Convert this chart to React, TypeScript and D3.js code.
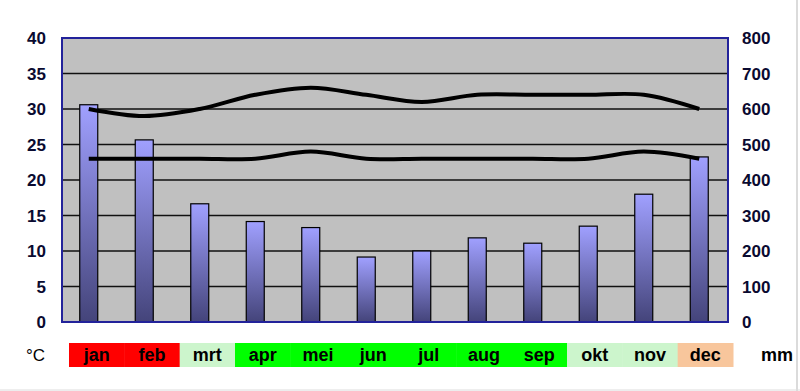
import React from "react";
import * as d3 from "d3";

const months = ["jan", "feb", "mrt", "apr", "mei", "jun", "jul", "aug", "sep", "okt", "nov", "dec"];
const precipitation = [612, 513, 333, 283, 266, 183, 200, 237, 222, 270, 360, 465];
const tempMax = [30, 29, 30, 32, 33, 32, 31, 32, 32, 32, 32, 30];
const tempMin = [23, 23, 23, 23, 24, 23, 23, 23, 23, 23, 24, 23];
const leftTicks = [0, 5, 10, 15, 20, 25, 30, 35, 40];
const rightTicks = [0, 100, 200, 300, 400, 500, 600, 700, 800];
const monthColors = ["#ff0000", "#ff0000", "#ccf5cc", "#00ff00", "#00ff00", "#00ff00", "#00ff00", "#00ff00", "#00ff00", "#ccf5cc", "#ccf5cc", "#f8c69c"];

export default function App() {
  const W = 800, H = 391;
  const L = 62, R = 728, T = 38, B = 322;
  const x = d3.scaleBand<string>().domain(months).range([L, R]).padding(0);
  const yT = d3.scaleLinear().domain([0, 40]).range([B, T]);
  const yP = d3.scaleLinear().domain([0, 800]).range([B, T]);
  const xm = d3.scaleBand<string>().domain(months).range([69, 733]).padding(0);
  const barW = 18;
  const cx = (m: string) => (x(m) as number) + x.bandwidth() / 2 - 1;
  const line = d3.line<number>()
    .x((_, i) => cx(months[i]))
    .y((d) => yT(d))
    .curve(d3.curveCatmullRom.alpha(0.5));
  const font = "Arial, 'Liberation Sans', sans-serif";
  return (
    <svg width={W} height={H} style={{ position: "absolute", left: 0, top: 0, background: "#fff" }}>
      <defs>
        <linearGradient id="barGrad" x1="0" y1="0" x2="0" y2="1">
          <stop offset="0%" stopColor="#a0a0ff" />
          <stop offset="100%" stopColor="#44447a" />
        </linearGradient>
      </defs>
      <rect x={0} y={0} width={W} height={H} fill="#fff" />
      <line x1={797} x2={797} y1={0} y2={H} stroke="#cfcfcf" strokeWidth={1.5} />
      <line x1={0} x2={W} y1={390} y2={390} stroke="#dcdcdc" strokeWidth={1} />
      <rect x={L} y={T} width={R - L} height={B - T} fill="#c0c0c0" />
      {leftTicks.slice(1, -1).map((t) => (
        <line key={t} x1={L} x2={R} y1={yT(t)} y2={yT(t)} stroke="#111" strokeWidth={1.3} />
      ))}
      {precipitation.map((v, i) => (
        <rect key={months[i]} x={cx(months[i]) - barW / 2} y={yP(v)} width={barW} height={B - yP(v)}
          fill="url(#barGrad)" stroke="#000" strokeWidth={1.2} />
      ))}
      <path d={line(tempMax) || ""} fill="none" stroke="#000" strokeWidth={4} />
      <path d={line(tempMin) || ""} fill="none" stroke="#000" strokeWidth={4} />
      <rect x={L} y={T} width={R - L} height={B - T} fill="none" stroke="#22229a" strokeWidth={2} />
      {leftTicks.map((t) => (
        <text key={t} x={46} y={yT(t)} dy="0.36em" textAnchor="end" fontFamily={font} fontWeight="bold" fontSize={17} fill="#0a0a30">{t}</text>
      ))}
      {rightTicks.map((t) => (
        <text key={t} x={742} y={yP(t)} dy="0.36em" textAnchor="start" fontFamily={font} fontWeight="bold" fontSize={17} fill="#0a0a30">{t}</text>
      ))}
      {months.map((m, i) => (
        <g key={m}>
          <rect x={xm(m)} y={343} width={xm.bandwidth() + 0.5} height={24} fill={monthColors[i]} />
          <text x={(xm(m) as number) + xm.bandwidth() / 2} y={361} textAnchor="middle" fontFamily={font} fontWeight="bold" fontSize={18} fill="#000">{m}</text>
        </g>
      ))}
      <text x={26} y={361} fontFamily={font} fontSize={17} fill="#000">°C</text>
      <text x={761} y={361} fontFamily={font} fontWeight="bold" fontSize={18} fill="#000">mm</text>
    </svg>
  );
}
